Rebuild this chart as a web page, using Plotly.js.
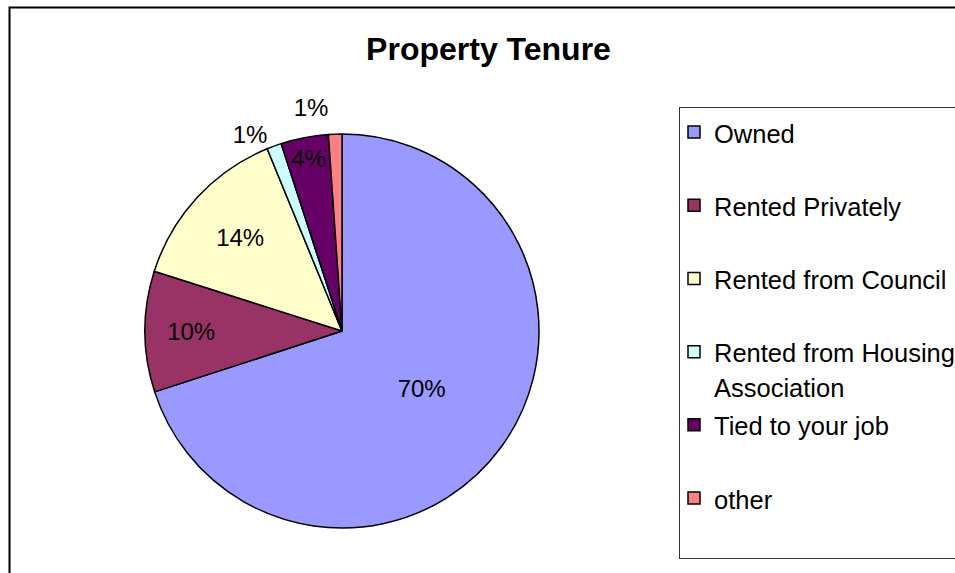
<!DOCTYPE html>
<html>
<head>
<meta charset="utf-8">
<script src="https://cdn.plot.ly/plotly-3.0.1.min.js"></script>
<style>
html,body{margin:0;padding:0;background:#fff;}
#chart{width:955px;height:573px;}
#chart .textline{display:none;}
</style>
</head>
<body>
<div id="chart"></div>
<script>
// Data
const categories = ["Owned", "Rented Privately", "Rented from Council", "Rented from Housing<br>Association", "Tied to your job", "other"];
const shares = [70.0, 9.9, 13.9, 1.2, 3.9, 1.1];
const sliceColors = ["#9999FF", "#993366", "#FFFFCC", "#CCFFFF", "#660066", "#FF8080"];
const labelPositions = ["inside", "inside", "inside", "outside", "inside", "outside"];

// legend entries: two lines each (blank second line) so the spacing matches the original,
// glyphs drawn slightly smaller than the legend line height
const legendLabels = categories.map(c => {
  const lines = c.split("<br>");
  if (lines.length < 2) lines.push(" ");
  return lines.map(l => '<span style="font-size:25.5px">' + l + '</span>').join("<br>");
});

const W = 955, H = 573;
const cx = 342, cy = 331, R = 197;

const trace = {
  type: "pie",
  labels: legendLabels,
  values: shares,
  sort: false,
  direction: "clockwise",
  rotation: 0,
  marker: { colors: sliceColors, line: { color: "#000000", width: 1.5 } },
  texttemplate: "%{percent:.0%}",
  textposition: labelPositions,
  insidetextorientation: "horizontal",
  textfont: { family: "Arial, Liberation Sans, sans-serif", size: 24, color: "#000000" },
  hoverinfo: "percent",
  domain: { x: [(cx - R) / W, (cx + R) / W], y: [(H - cy - R) / H, (H - cy + R) / H] }
};

const layout = {
  width: W, height: H,
  margin: { l: 0, r: 0, t: 0, b: 0, autoexpand: false },
  paper_bgcolor: "#ffffff",
  font: { family: "Arial, Liberation Sans, sans-serif", color: "#000000" },
  uniformtext: { mode: "show", minsize: 24 },
  title: {
    text: "<b>Property Tenure</b>",
    font: { family: "Arial, Liberation Sans, sans-serif", size: 32, color: "#000000" },
    x: 488.5 / W, xanchor: "center", xref: "paper",
    y: 1 - 48.8 / H, yanchor: "middle", yref: "container"
  },
  showlegend: true,
  legend: {
    x: 679 / W, xanchor: "left",
    y: 1 - 107 / H, yanchor: "top",
    bordercolor: "#333333", borderwidth: 1,
    bgcolor: "#ffffff",
    valign: "top",
    indentation: -6,
    font: { family: "Arial, Liberation Sans, sans-serif", size: 27, color: "#000000" }
  },
  shapes: [{
    type: "rect", xref: "paper", yref: "paper",
    x0: 9.5 / W, x1: 1.2, y0: -0.2, y1: 1 - 7.5 / H,
    line: { color: "#000000", width: 2 }, fillcolor: "rgba(0,0,0,0)", layer: "below"
  }]
};

Plotly.newPlot("chart", [trace], layout, { displayModeBar: false, staticPlot: true });
</script>
</body>
</html>
